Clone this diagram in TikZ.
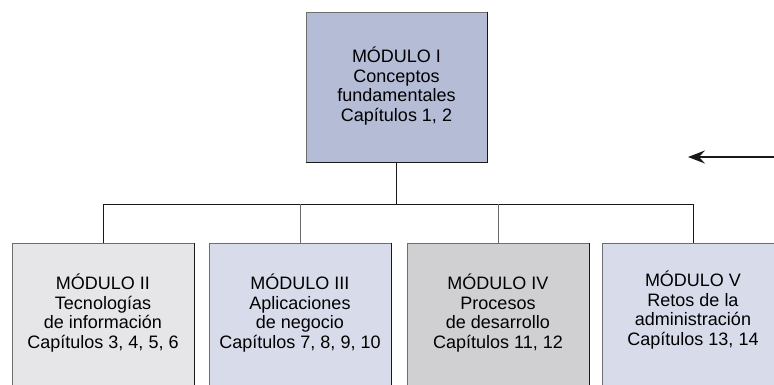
\documentclass[tikz,border=0pt]{standalone}
\usepackage{fontspec}
\setmainfont{Liberation Sans}
\usetikzlibrary{arrows.meta}
\definecolor{topfill}{RGB}{180,188,214}
\definecolor{fillA}{RGB}{230,230,232}
\definecolor{fillB}{RGB}{216,220,234}
\definecolor{fillC}{RGB}{208,208,210}
\definecolor{edgelight}{RGB}{110,110,110}
\definecolor{edgedark}{RGB}{25,25,25}
\definecolor{linkgray}{RGB}{105,105,105}
\tikzset{
  modbox/.style={draw=edgelight, line width=0.8pt, minimum width=181pt, inner sep=0pt},
  modtext/.style={align=center, inner sep=0pt, text=black, font=\fontsize{18}{19.8}\selectfont},
  shadowedge/.style={draw=edgedark, line width=1.6pt},
  link/.style={draw=linkgray, line width=1pt},
  darklink/.style={draw=edgedark, line width=1pt},
}
\begin{document}
\begin{tikzpicture}[x=1pt,y=-1pt]
\useasboundingbox (0,0) rectangle (774,385);
\clip (0,0) rectangle (774,385);
% top box
\node[modbox, fill=topfill, minimum height=150pt] (m1) at (396.5,87) {};
\node[modtext] (t1) at (396.5,86) {MÓDULO I\\Conceptos\\fundamentales\\Capítulos 1, 2};
\draw[shadowedge] (m1.north east) -- (m1.south east) -- (m1.south west);
% bottom boxes
\node[modbox, fill=fillA, minimum width=182pt, minimum height=170pt] (m2) at (103,328) {};
\node[modbox, fill=fillB, minimum width=182pt, minimum height=170pt] (m3) at (300,328) {};
\node[modbox, fill=fillC, minimum width=182pt, minimum height=170pt] (m4) at (498,328) {};
\node[modbox, fill=fillB, minimum width=182pt, minimum height=170pt] (m5) at (693,328) {};
\foreach \b in {m2,m3,m4,m5}{\draw[shadowedge] (\b.north east) -- (\b.south east);}
\node[modtext] (t2) at (103,313) {MÓDULO II\\Tecnologías\\de información\\Capítulos 3, 4, 5, 6};
\node[modtext] (t3) at (300,313) {MÓDULO III\\Aplicaciones\\de negocio\\Capítulos 7, 8, 9, 10};
\node[modtext] (t4) at (498,313) {MÓDULO IV\\Procesos\\de desarrollo\\Capítulos 11, 12};
\node[modtext] (t5) at (693,310) {MÓDULO V\\Retos de la\\administración\\Capítulos 13, 14};
% connectors
\coordinate (bus) at (396.5,204);
\draw[darklink] (m1.south) -- (bus);
\draw[darklink] (m2.north) |- (bus);
\draw[darklink] (bus) -| (m5.north);
\draw[link] (m3.north) -- (m3.north |- bus);
\draw[link] (m4.north) -- (m4.north |- bus);
% arrow
\coordinate (arrS) at (774,157);
\coordinate (arrE) at (688,157);
\draw[draw=edgedark, line width=1.2pt, -{Stealth[length=17pt,width=13pt,inset=6pt]}] (arrS) -- (arrE);
\end{tikzpicture}
\end{document}
